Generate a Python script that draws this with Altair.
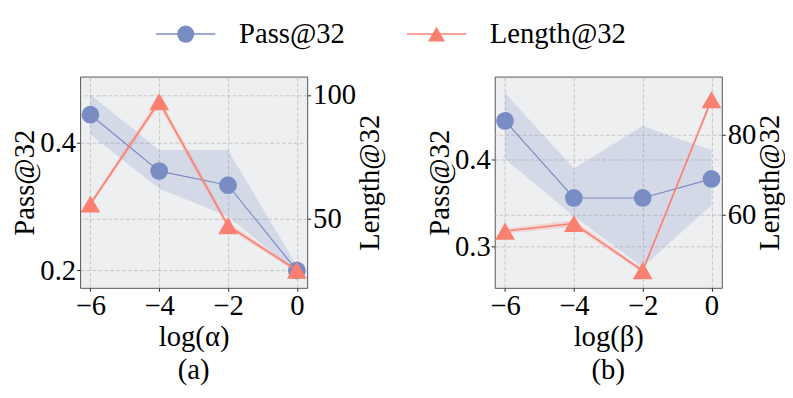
import altair as alt
import pandas as pd

FONT = "Liberation Serif"
FS = 29
BLUE = "#7A8CC4"
RED = "#FA8072"
BG = "#EEEFF1"

x_vals = [-6, -4, -2, 0]
x_ticks = [-6, -4, -2, 0]

# panel (a): log(alpha)
pass_a = [0.443, 0.355, 0.333, 0.200]
pass_a_lo = [0.412, 0.328, 0.284, 0.197]
pass_a_hi = [0.474, 0.388, 0.388, 0.207]
len_a = [56.0, 97.3, 47.3, 29.3]
len_a_lo = [55.0, 95.5, 46.0, 28.5]
len_a_hi = [57.0, 99.0, 48.5, 30.0]

# panel (b): log(beta)
pass_b = [0.445, 0.356, 0.356, 0.378]
pass_b_lo = [0.401, 0.335, 0.276, 0.348]
pass_b_hi = [0.477, 0.390, 0.439, 0.411]
len_b = [55.9, 57.8, 46.0, 88.8]
len_b_lo = [55.3, 57.0, 45.5, 88.0]
len_b_hi = [56.5, 58.6, 46.5, 89.6]

legend_names = ["Pass@32", "Length@32"]


def panel(p, plo, phi, ln, llo, lhi, xtitle, caption, ldom, lticks, rdom, rticks):
    df = pd.DataFrame({"x": x_vals, "p": p, "plo": plo, "phi": phi,
                       "l": ln, "llo": llo, "lhi": lhi})
    base = alt.Chart(df)
    xenc = alt.X("x:Q", scale=alt.Scale(domain=[-6.3, 0.3], nice=False, zero=False),
                 axis=alt.Axis(values=x_ticks, title=xtitle, format="d", grid=True,
                               labelFlush=False, labelPadding=1, titlePadding=2))
    lscale = alt.Scale(domain=ldom, nice=False, zero=False)
    rscale = alt.Scale(domain=rdom, nice=False, zero=False)
    laxis = alt.Axis(values=lticks, format=".1f", title="Pass@32", orient="left", grid=True,
                     labelPadding=1, titlePadding=0)
    raxis = alt.Axis(values=rticks, format="d", title="Length@32", orient="right", grid=True,
                     titleAngle=270, titleBaseline="top", labelPadding=2, titlePadding=0)
    left = alt.layer(
        base.mark_area(color=BLUE, opacity=0.22).encode(
            x=xenc, y=alt.Y("plo:Q", scale=lscale, axis=laxis), y2="phi:Q"),
        base.mark_line(color=BLUE, strokeWidth=1.2).encode(
            x=xenc, y=alt.Y("p:Q", scale=lscale, axis=laxis)),
        base.mark_point(filled=True, shape="circle", size=324, color=BLUE, opacity=1).encode(
            x=xenc, y=alt.Y("p:Q", scale=lscale, axis=laxis)),
    )
    right = alt.layer(
        base.mark_area(color=RED, opacity=0.25).encode(
            x=xenc, y=alt.Y("llo:Q", scale=rscale, axis=raxis), y2="lhi:Q"),
        base.mark_line(color=RED, strokeWidth=1.6).encode(
            x=xenc, y=alt.Y("l:Q", scale=rscale, axis=raxis)),
        base.mark_point(filled=True, shape="triangle-up", size=400, color=RED, opacity=1).encode(
            x=xenc, y=alt.Y("l:Q", scale=rscale, axis=raxis)),
    )
    return alt.layer(left, right).resolve_scale(y="independent").properties(
        width=230, height=214,
        view=alt.ViewBackground(fill=BG, stroke="#555555", strokeWidth=1),
        title=alt.TitleParams(text=caption, orient="bottom", offset=5),
    )


pa = panel(pass_a, pass_a_lo, pass_a_hi, len_a, len_a_lo, len_a_hi, "log(α)", "(a)",
           [0.1728, 0.5025], [0.2, 0.4], [22.2, 107.4], [50, 100])
pb = panel(pass_b, pass_b_lo, pass_b_hi, len_b, len_b_lo, len_b_hi, "log(β)", "(b)",
           [0.2523, 0.4961], [0.3, 0.4], [41.7, 94.6], [60, 80])

leg_df = pd.DataFrame({"s": legend_names, "row": ["k", "k"]})
lb = alt.Chart(leg_df)
lcolor = alt.Color("s:N", scale=alt.Scale(domain=legend_names, range=[BLUE, RED]), legend=None)
lshape = alt.Shape("s:N", scale=alt.Scale(domain=legend_names, range=["circle", "triangle-up"]),
                   legend=None)
lx = alt.X("s:N", scale=alt.Scale(type="point", domain=legend_names, range=[107, 361], padding=0),
           axis=None)
ly = alt.Y("row:N", axis=None)
legend = alt.layer(
    lb.mark_rule(strokeWidth=1.5, xOffset=-30, x2Offset=30).encode(x=lx, x2="s:N", y=ly, color=lcolor),
    lb.mark_point(filled=True, opacity=1, size=300).encode(x=lx, y=ly, color=lcolor, shape=lshape),
    lb.mark_text(align="left", baseline="middle", dx=54, font=FONT, fontSize=FS, color="black").encode(
        x=lx, y=ly, text="s:N"),
).properties(width=651, height=40,
             view=alt.ViewBackground(fill="transparent", stroke="transparent"))

chart = alt.vconcat(
    legend,
    alt.hconcat(pa, pb, spacing=190, bounds="flush"),
    spacing=23, bounds="flush",
).properties(
    padding={"left": 2, "top": 3, "right": 0, "bottom": 0},
).configure_axis(
    labelFont=FONT, titleFont=FONT, labelFontSize=FS, titleFontSize=FS,
    titleFontWeight="normal", labelColor="black", titleColor="black",
    tickColor="#222222", tickSize=3.5, domain=False,
    gridColor="#bdbdbd", gridDash=[4, 2], gridWidth=0.8,
).configure_title(
    font=FONT, fontSize=FS, fontWeight="normal", color="black",
)

chart.save("out.html", embed_options={"renderer": "svg", "actions": False})
